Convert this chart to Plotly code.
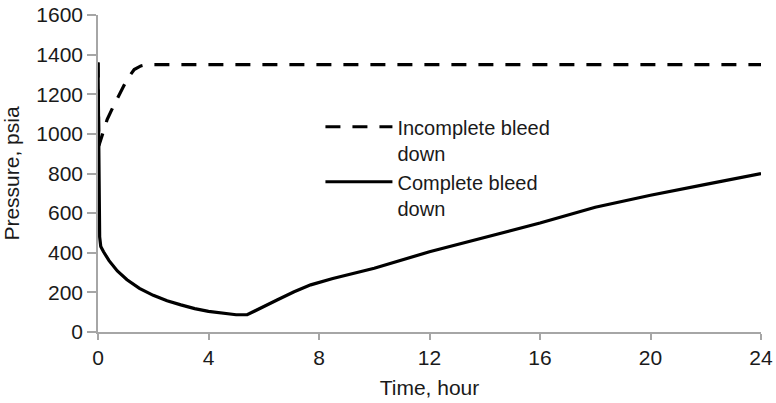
import plotly.graph_objects as go

# Incomplete bleed down: pressure recovers quickly to a plateau
t_incomplete = [0.0, 0.03, 0.2, 0.33, 0.56, 0.81, 1.05, 1.31, 1.55, 1.77, 2.5, 6, 12, 18, 24]
p_incomplete = [1360, 940, 1013, 1072, 1140, 1207, 1274, 1325, 1343, 1350, 1350, 1350, 1350, 1350, 1350]

# Complete bleed down: drops to a minimum, then builds up slowly
t_complete = [0.0, 0.02, 0.04, 0.06, 0.1, 0.2, 0.4, 0.7, 1.05, 1.5, 2.0, 2.5, 3.0, 3.5, 4.0,
              4.5, 5.0, 5.4, 5.9, 6.5, 7.1, 7.7, 8.5, 10, 12, 14, 16, 18, 20, 22, 24]
p_complete = [1360, 1000, 600, 480, 432, 405, 360, 308, 264, 220, 185, 158, 137, 118, 104,
              94, 87, 87, 123, 163, 203, 238, 270, 322, 405, 478, 550, 630, 690, 745, 800]

x_ticks = [0, 4, 8, 12, 16, 20, 24]
y_ticks = [0, 200, 400, 600, 800, 1000, 1200, 1400, 1600]

font_family = "Liberation Sans, Arial, sans-serif"
text_color = "#1a1a1a"
axis_color = "#a6a6a6"
font_size = 21
legend_font_size = 20

fig = go.Figure()
fig.add_trace(go.Scatter(
    x=t_incomplete, y=p_incomplete, mode="lines",
    name="Incomplete bleed<br>down",
    line=dict(color="black", width=3.2, dash="15px,12px"),
))
fig.add_trace(go.Scatter(
    x=t_complete, y=p_complete, mode="lines",
    name="Complete bleed<br>down",
    line=dict(color="black", width=3.2),
))

fig.update_layout(
    width=776, height=403,
    margin=dict(l=98, r=15, t=15, b=71),
    paper_bgcolor="white", plot_bgcolor="white",
    font=dict(family=font_family, size=font_size, color=text_color),
    showlegend=True,
    legend=dict(
        x=0.3355, y=0.709, xanchor="left", yanchor="top",
        bgcolor="rgba(0,0,0,0)", itemwidth=67, valign="top",
        tracegroupgap=0, font=dict(size=legend_font_size, color=text_color),
    ),
    xaxis=dict(
        range=[0, 24], tickvals=x_ticks, ticktext=[str(v) for v in x_ticks],
        showgrid=False, zeroline=False, showline=True, linecolor=axis_color, linewidth=1.5,
        ticks="outside", ticklen=6, tickcolor=axis_color, tickwidth=1.5,
        tickfont=dict(size=font_size), automargin=False,
        title=dict(text="Time, hour", standoff=12, font=dict(size=font_size)),
    ),
    yaxis=dict(
        range=[0, 1600], tickvals=y_ticks, ticktext=[str(v) for v in y_ticks],
        showgrid=False, zeroline=False, showline=True, linecolor=axis_color, linewidth=1.5,
        ticks="outside", ticklen=9, tickcolor=axis_color, tickwidth=1.5,
        tickfont=dict(size=font_size), automargin=False,
        title=dict(text="Pressure, psia", standoff=11, font=dict(size=font_size)),
    ),
)

fig.write_html("out.html")
